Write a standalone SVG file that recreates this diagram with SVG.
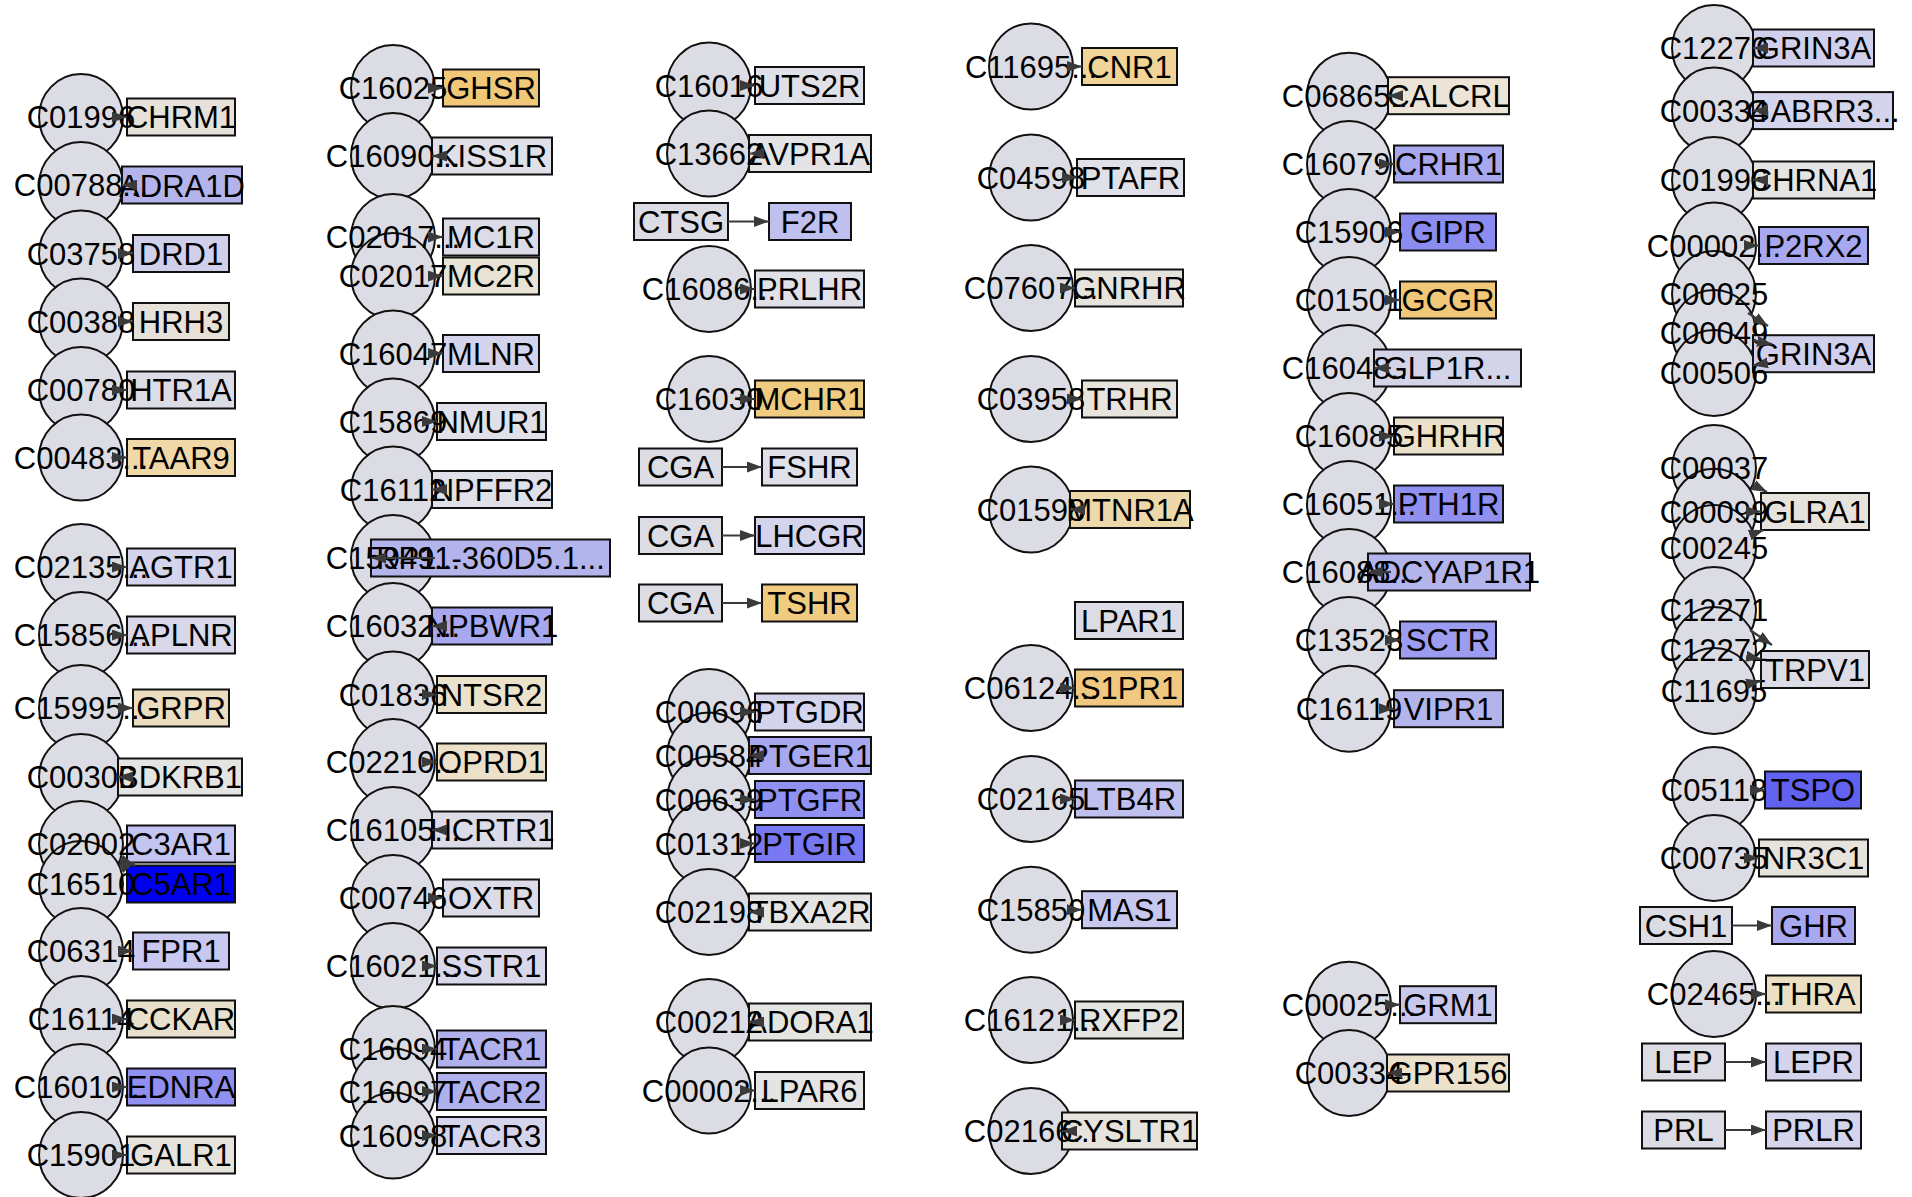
<svg xmlns="http://www.w3.org/2000/svg" width="1912" height="1197" viewBox="0 0 1912 1197">
<style>
.cpd ellipse{fill:#dcdce4;stroke:#111;stroke-width:2}
.gene rect{stroke:#111;stroke-width:2}
.lbl text{font-family:"Liberation Sans",Arial,sans-serif;font-size:31px;fill:#000;text-anchor:middle}
.edges line{stroke:#3a3a3a;stroke-width:2.2;marker-end:url(#arr)}
</style>
<defs>
<marker id="arr" markerUnits="userSpaceOnUse" markerWidth="15" markerHeight="11" refX="15" refY="5.5" orient="auto"><path d="M0,0 L15,5.5 L0,11 z" fill="#3a3a3a"/></marker>
</defs>
<rect width="1912" height="1197" fill="#ffffff"/>
<g id="nodes">
<!-- column 1 compounds -->
<g id="c1-C01996" class="node cpd"><ellipse cx="81" cy="117" rx="42" ry="43"/></g>
<g id="c1-C00788" class="node cpd"><ellipse cx="81" cy="185" rx="42" ry="43"/></g>
<g id="c1-C03758" class="node cpd"><ellipse cx="81" cy="253.5" rx="42" ry="43"/></g>
<g id="c1-C00388" class="node cpd"><ellipse cx="81" cy="321.5" rx="42" ry="43"/></g>
<g id="c1-C00780" class="node cpd"><ellipse cx="81" cy="390" rx="42" ry="43"/></g>
<g id="c1-C00483" class="node cpd"><ellipse cx="81" cy="457.5" rx="42" ry="43"/></g>
<g id="c1-C02135" class="node cpd"><ellipse cx="81" cy="567" rx="42" ry="43"/></g>
<g id="c1-C15856" class="node cpd"><ellipse cx="81" cy="635" rx="42" ry="43"/></g>
<g id="c1-C15995" class="node cpd"><ellipse cx="81" cy="708" rx="42" ry="43"/></g>
<g id="c1-C00306" class="node cpd"><ellipse cx="81" cy="777" rx="42" ry="43"/></g>
<g id="c1-C02002" class="node cpd"><ellipse cx="81" cy="844" rx="42" ry="43"/></g>
<g id="c1-C16510" class="node cpd"><ellipse cx="81" cy="884" rx="42" ry="43"/></g>
<g id="c1-C06314" class="node cpd"><ellipse cx="81" cy="951" rx="42" ry="43"/></g>
<g id="c1-C16114" class="node cpd"><ellipse cx="81" cy="1019" rx="42" ry="43"/></g>
<g id="c1-C16010" class="node cpd"><ellipse cx="81" cy="1087" rx="42" ry="43"/></g>
<g id="c1-C15901" class="node cpd"><ellipse cx="81" cy="1155" rx="42" ry="43"/></g>
<!-- column 2 compounds -->
<g id="c2-C16025" class="node cpd"><ellipse cx="393" cy="88" rx="42" ry="43"/></g>
<g id="c2-C16090" class="node cpd"><ellipse cx="393" cy="156" rx="42" ry="43"/></g>
<g id="c2-C02017a" class="node cpd"><ellipse cx="393" cy="237" rx="42" ry="43"/></g>
<g id="c2-C02017b" class="node cpd"><ellipse cx="393" cy="276" rx="42" ry="43"/></g>
<g id="c2-C16047" class="node cpd"><ellipse cx="393" cy="353.5" rx="42" ry="43"/></g>
<g id="c2-C15869" class="node cpd"><ellipse cx="393" cy="421.5" rx="42" ry="43"/></g>
<g id="c2-C16112" class="node cpd"><ellipse cx="393" cy="489.5" rx="42" ry="43"/></g>
<g id="c2-C15949" class="node cpd"><ellipse cx="393" cy="558" rx="42" ry="43"/></g>
<g id="c2-C16032" class="node cpd"><ellipse cx="393" cy="626" rx="42" ry="43"/></g>
<g id="c2-C01836" class="node cpd"><ellipse cx="393" cy="694.5" rx="42" ry="43"/></g>
<g id="c2-C02210" class="node cpd"><ellipse cx="393" cy="762" rx="42" ry="43"/></g>
<g id="c2-C16105" class="node cpd"><ellipse cx="393" cy="830" rx="42" ry="43"/></g>
<g id="c2-C00746" class="node cpd"><ellipse cx="393" cy="898" rx="42" ry="43"/></g>
<g id="c2-C16021" class="node cpd"><ellipse cx="393" cy="966" rx="42" ry="43"/></g>
<g id="c2-C16094" class="node cpd"><ellipse cx="393" cy="1049" rx="42" ry="43"/></g>
<g id="c2-C16097" class="node cpd"><ellipse cx="393" cy="1091.5" rx="42" ry="43"/></g>
<g id="c2-C16098" class="node cpd"><ellipse cx="393" cy="1135.5" rx="42" ry="43"/></g>
<!-- column 3 compounds -->
<g id="c3-C16016" class="node cpd"><ellipse cx="709" cy="85.5" rx="42" ry="43"/></g>
<g id="c3-C13662" class="node cpd"><ellipse cx="709" cy="153.5" rx="42" ry="43"/></g>
<g id="c3-C16086" class="node cpd"><ellipse cx="709" cy="289" rx="42" ry="43"/></g>
<g id="c3-C16030" class="node cpd"><ellipse cx="709" cy="399" rx="42" ry="43"/></g>
<g id="c3-C00696" class="node cpd"><ellipse cx="709" cy="712" rx="42" ry="43"/></g>
<g id="c3-C00584" class="node cpd"><ellipse cx="709" cy="755.5" rx="42" ry="43"/></g>
<g id="c3-C00639" class="node cpd"><ellipse cx="709" cy="799.5" rx="42" ry="43"/></g>
<g id="c3-C01312" class="node cpd"><ellipse cx="709" cy="843.5" rx="42" ry="43"/></g>
<g id="c3-C02198" class="node cpd"><ellipse cx="709" cy="912" rx="42" ry="43"/></g>
<g id="c3-C00212" class="node cpd"><ellipse cx="709" cy="1022" rx="42" ry="43"/></g>
<g id="c3-C00002" class="node cpd"><ellipse cx="709" cy="1090.5" rx="42" ry="43"/></g>
<!-- column 4 compounds -->
<g id="c4-C11695" class="node cpd"><ellipse cx="1031" cy="66.5" rx="42" ry="43"/></g>
<g id="c4-C04598" class="node cpd"><ellipse cx="1031" cy="177.5" rx="42" ry="43"/></g>
<g id="c4-C07607" class="node cpd"><ellipse cx="1031" cy="288" rx="42" ry="43"/></g>
<g id="c4-C03958" class="node cpd"><ellipse cx="1031" cy="399" rx="42" ry="43"/></g>
<g id="c4-C01598" class="node cpd"><ellipse cx="1031" cy="509.5" rx="42" ry="43"/></g>
<g id="c4-C06124" class="node cpd"><ellipse cx="1031" cy="688" rx="42" ry="43"/></g>
<g id="c4-C02165" class="node cpd"><ellipse cx="1031" cy="799" rx="42" ry="43"/></g>
<g id="c4-C15850" class="node cpd"><ellipse cx="1031" cy="909.7" rx="42" ry="43"/></g>
<g id="c4-C16121" class="node cpd"><ellipse cx="1031" cy="1020" rx="42" ry="43"/></g>
<g id="c4-C02166" class="node cpd"><ellipse cx="1031" cy="1131" rx="42" ry="43"/></g>
<!-- column 5 compounds -->
<g id="c5-C06865" class="node cpd"><ellipse cx="1349" cy="95.7" rx="42" ry="43"/></g>
<g id="c5-C16079" class="node cpd"><ellipse cx="1349" cy="164" rx="42" ry="43"/></g>
<g id="c5-C15906" class="node cpd"><ellipse cx="1349" cy="232" rx="42" ry="43"/></g>
<g id="c5-C01501" class="node cpd"><ellipse cx="1349" cy="300" rx="42" ry="43"/></g>
<g id="c5-C16048" class="node cpd"><ellipse cx="1349" cy="368" rx="42" ry="43"/></g>
<g id="c5-C16085" class="node cpd"><ellipse cx="1349" cy="436" rx="42" ry="43"/></g>
<g id="c5-C16051" class="node cpd"><ellipse cx="1349" cy="504" rx="42" ry="43"/></g>
<g id="c5-C16088" class="node cpd"><ellipse cx="1349" cy="572" rx="42" ry="43"/></g>
<g id="c5-C13523" class="node cpd"><ellipse cx="1349" cy="640" rx="42" ry="43"/></g>
<g id="c5-C16119" class="node cpd"><ellipse cx="1349" cy="708.7" rx="42" ry="43"/></g>
<g id="c5-C00025" class="node cpd"><ellipse cx="1349" cy="1004.7" rx="42" ry="43"/></g>
<g id="c5-C00334" class="node cpd"><ellipse cx="1349" cy="1073" rx="42" ry="43"/></g>
<!-- column 6 compounds -->
<g id="c6-C12270" class="node cpd"><ellipse cx="1714" cy="48" rx="42" ry="43"/></g>
<g id="c6-C00334" class="node cpd"><ellipse cx="1714" cy="110.6" rx="42" ry="43"/></g>
<g id="c6-C01996" class="node cpd"><ellipse cx="1714" cy="180" rx="42" ry="43"/></g>
<g id="c6-C00002" class="node cpd"><ellipse cx="1714" cy="245.5" rx="42" ry="43"/></g>
<g id="c6-C00025" class="node cpd"><ellipse cx="1714" cy="294" rx="42" ry="43"/></g>
<g id="c6-C00049" class="node cpd"><ellipse cx="1714" cy="333" rx="42" ry="43"/></g>
<g id="c6-C00506" class="node cpd"><ellipse cx="1714" cy="373" rx="42" ry="43"/></g>
<g id="c6-C00037" class="node cpd"><ellipse cx="1714" cy="468" rx="42" ry="43"/></g>
<g id="c6-C00099" class="node cpd"><ellipse cx="1714" cy="511.7" rx="42" ry="43"/></g>
<g id="c6-C00245" class="node cpd"><ellipse cx="1714" cy="548" rx="42" ry="43"/></g>
<g id="c6-C12271" class="node cpd"><ellipse cx="1714" cy="610" rx="42" ry="43"/></g>
<g id="c6-C12272" class="node cpd"><ellipse cx="1714" cy="650" rx="42" ry="43"/></g>
<g id="c6-C11695" class="node cpd"><ellipse cx="1714" cy="691" rx="42" ry="43"/></g>
<g id="c6-C05118" class="node cpd"><ellipse cx="1714" cy="790" rx="42" ry="43"/></g>
<g id="c6-C00735" class="node cpd"><ellipse cx="1714" cy="858" rx="42" ry="43"/></g>
<g id="c6-C02465" class="node cpd"><ellipse cx="1714" cy="994" rx="42" ry="43"/></g>

<!-- genes column 1 -->
<g id="g-CHRM1" class="node gene"><rect x="127" y="98.5" width="108" height="37" fill="#e6e2da"/></g>
<g id="g-ADRA1D" class="node gene"><rect x="122" y="166.5" width="120" height="37" fill="#b4b4ec"/></g>
<g id="g-DRD1" class="node gene"><rect x="133" y="235" width="96" height="37" fill="#d0d0ea"/></g>
<g id="g-HRH3" class="node gene"><rect x="133" y="303" width="96" height="37" fill="#e6e2da"/></g>
<g id="g-HTR1A" class="node gene"><rect x="127" y="371.5" width="108" height="37" fill="#dcdce6"/></g>
<g id="g-TAAR9" class="node gene"><rect x="127" y="439" width="108" height="37" fill="#f0d8a8"/></g>
<g id="g-AGTR1" class="node gene"><rect x="127" y="548.5" width="108" height="37" fill="#d4d4ec"/></g>
<g id="g-APLNR" class="node gene"><rect x="127" y="616.5" width="108" height="37" fill="#d8d8ea"/></g>
<g id="g-GRPR" class="node gene"><rect x="133" y="689.5" width="96" height="37" fill="#ecdcc0"/></g>
<g id="g-BDKRB1" class="node gene"><rect x="118" y="758.5" width="124" height="37" fill="#e4e4e2"/></g>
<g id="g-C3AR1" class="node gene"><rect x="127" y="825.5" width="108" height="37" fill="#c4c4f0"/></g>
<g id="g-C5AR1" class="node gene"><rect x="127" y="865.5" width="108" height="37" fill="#0000f0"/></g>
<g id="g-FPR1" class="node gene"><rect x="133" y="932.5" width="96" height="37" fill="#c8c8f0"/></g>
<g id="g-CCKAR" class="node gene"><rect x="127" y="1000.5" width="108" height="37" fill="#e8e0cc"/></g>
<g id="g-EDNRA" class="node gene"><rect x="127" y="1068.5" width="108" height="37" fill="#9090f0"/></g>
<g id="g-GALR1" class="node gene"><rect x="127" y="1136.5" width="108" height="37" fill="#e6e3dc"/></g>
<!-- genes column 2 -->
<g id="g-GHSR" class="node gene"><rect x="443" y="69.5" width="96" height="37" fill="#f0c878"/></g>
<g id="g-KISS1R" class="node gene"><rect x="432" y="137.5" width="120" height="37" fill="#e0e0e8"/></g>
<g id="g-MC1R" class="node gene"><rect x="443" y="218.5" width="96" height="37" fill="#dcdce8"/></g>
<g id="g-MC2R" class="node gene"><rect x="443" y="257.5" width="96" height="37" fill="#e8e3d4"/></g>
<g id="g-MLNR" class="node gene"><rect x="443" y="335" width="96" height="37" fill="#d4d4ec"/></g>
<g id="g-NMUR1" class="node gene"><rect x="437" y="403" width="109" height="37" fill="#e0e0e8"/></g>
<g id="g-NPFFR2" class="node gene"><rect x="432" y="471" width="120" height="37" fill="#e0e0e8"/></g>
<g id="g-RP11-360D5.1" class="node gene"><rect x="371" y="539.5" width="239" height="37" fill="#b4b4ec"/></g>
<g id="g-NPBWR1" class="node gene"><rect x="432" y="607.5" width="120" height="37" fill="#a8a8f0"/></g>
<g id="g-NTSR2" class="node gene"><rect x="437" y="676" width="109" height="37" fill="#ece2cc"/></g>
<g id="g-OPRD1" class="node gene"><rect x="437" y="743.5" width="109" height="37" fill="#ece0c8"/></g>
<g id="g-HCRTR1" class="node gene"><rect x="432" y="811.5" width="120" height="37" fill="#dcdce8"/></g>
<g id="g-OXTR" class="node gene"><rect x="443" y="879.5" width="96" height="37" fill="#dcdce8"/></g>
<g id="g-SSTR1" class="node gene"><rect x="437" y="947.5" width="109" height="37" fill="#d8d8ea"/></g>
<g id="g-TACR1" class="node gene"><rect x="437" y="1030.5" width="109" height="37" fill="#b0b0ec"/></g>
<g id="g-TACR2" class="node gene"><rect x="437" y="1073" width="109" height="37" fill="#b0b0ec"/></g>
<g id="g-TACR3" class="node gene"><rect x="437" y="1117" width="109" height="37" fill="#d4d4ec"/></g>
<!-- genes column 3 -->
<g id="g-UTS2R" class="node gene"><rect x="755" y="67" width="109" height="37" fill="#e0e0e8"/></g>
<g id="g-AVPR1A" class="node gene"><rect x="749" y="135" width="122" height="37" fill="#e4e4e6"/></g>
<g id="g-CTSG" class="node gene"><rect x="634" y="203" width="94" height="37" fill="#dcdce4"/></g>
<g id="g-F2R" class="node gene"><rect x="769" y="203" width="82" height="37" fill="#c0c0ee"/></g>
<g id="g-PRLHR" class="node gene"><rect x="755" y="270.5" width="109" height="37" fill="#e0e0e8"/></g>
<g id="g-MCHR1" class="node gene"><rect x="755" y="380.5" width="109" height="37" fill="#f0cc80"/></g>
<g id="g-CGA-1" class="node gene"><rect x="639" y="448.5" width="83" height="37" fill="#dcdce4"/></g>
<g id="g-FSHR" class="node gene"><rect x="762" y="448.5" width="95" height="37" fill="#e0e0e8"/></g>
<g id="g-CGA-2" class="node gene"><rect x="639" y="517" width="83" height="37" fill="#dcdce4"/></g>
<g id="g-LHCGR" class="node gene"><rect x="755" y="517" width="109" height="37" fill="#d4d4ec"/></g>
<g id="g-CGA-3" class="node gene"><rect x="639" y="584.5" width="83" height="37" fill="#dcdce4"/></g>
<g id="g-TSHR" class="node gene"><rect x="762" y="584.5" width="95" height="37" fill="#f0cc80"/></g>
<g id="g-PTGDR" class="node gene"><rect x="755" y="693.5" width="109" height="37" fill="#d4d4ec"/></g>
<g id="g-PTGER1" class="node gene"><rect x="749" y="737" width="122" height="37" fill="#a8a8f0"/></g>
<g id="g-PTGFR" class="node gene"><rect x="755" y="781" width="109" height="37" fill="#9090f0"/></g>
<g id="g-PTGIR" class="node gene"><rect x="755" y="825" width="109" height="37" fill="#7878f4"/></g>
<g id="g-TBXA2R" class="node gene"><rect x="749" y="893.5" width="122" height="37" fill="#e4e4e4"/></g>
<g id="g-ADORA1" class="node gene"><rect x="749" y="1003.5" width="122" height="37" fill="#e4e4e0"/></g>
<g id="g-LPAR6" class="node gene"><rect x="755" y="1072" width="109" height="37" fill="#e4e4e4"/></g>
<!-- genes column 4 -->
<g id="g-CNR1" class="node gene"><rect x="1082" y="48" width="95" height="37" fill="#f0d498"/></g>
<g id="g-PTAFR" class="node gene"><rect x="1077" y="159" width="107" height="37" fill="#e0e0e8"/></g>
<g id="g-GNRHR" class="node gene"><rect x="1075" y="269.5" width="108" height="37" fill="#e6e3dc"/></g>
<g id="g-TRHR" class="node gene"><rect x="1082" y="380.5" width="95" height="37" fill="#e6e4dc"/></g>
<g id="g-MTNR1A" class="node gene"><rect x="1070" y="491" width="120" height="37" fill="#ecd8a8"/></g>
<g id="g-LPAR1" class="node gene"><rect x="1075" y="602" width="108" height="37" fill="#dcdce6"/></g>
<g id="g-S1PR1" class="node gene"><rect x="1075" y="669.5" width="108" height="37" fill="#f0c880"/></g>
<g id="g-LTB4R" class="node gene"><rect x="1075" y="780.5" width="108" height="37" fill="#c0c0ee"/></g>
<g id="g-MAS1" class="node gene"><rect x="1082" y="891.2" width="95" height="37" fill="#c8c8ee"/></g>
<g id="g-RXFP2" class="node gene"><rect x="1075" y="1001.5" width="108" height="37" fill="#e4e4e0"/></g>
<g id="g-CYSLTR1" class="node gene"><rect x="1062" y="1112.5" width="135" height="37" fill="#e6e3dc"/></g>
<!-- genes column 5 -->
<g id="g-CALCRL" class="node gene"><rect x="1388" y="77.2" width="121" height="37" fill="#ece4d6"/></g>
<g id="g-CRHR1" class="node gene"><rect x="1394" y="145.5" width="109" height="37" fill="#a8a8f0"/></g>
<g id="g-GIPR" class="node gene"><rect x="1400" y="213.5" width="96" height="37" fill="#8c8cf0"/></g>
<g id="g-GCGR" class="node gene"><rect x="1400" y="281.5" width="96" height="37" fill="#f0c878"/></g>
<g id="g-GLP1R" class="node gene"><rect x="1374" y="349.5" width="147" height="37" fill="#d4d4e8"/></g>
<g id="g-GHRHR" class="node gene"><rect x="1394" y="417.5" width="109" height="37" fill="#ece2cc"/></g>
<g id="g-PTH1R" class="node gene"><rect x="1394" y="485.5" width="109" height="37" fill="#9090f0"/></g>
<g id="g-ADCYAP1R1" class="node gene"><rect x="1368" y="553.5" width="162" height="37" fill="#b4b4ec"/></g>
<g id="g-SCTR" class="node gene"><rect x="1400" y="621.5" width="96" height="37" fill="#9c9cf0"/></g>
<g id="g-VIPR1" class="node gene"><rect x="1394" y="690.2" width="109" height="37" fill="#b4b4ec"/></g>
<g id="g-GRM1" class="node gene"><rect x="1400" y="986.2" width="96" height="37" fill="#c8c8ec"/></g>
<g id="g-GPR156" class="node gene"><rect x="1387" y="1054.5" width="122" height="37" fill="#ece2cc"/></g>
<!-- genes column 6 -->
<g id="g-GRIN3A-1" class="node gene"><rect x="1753" y="29.5" width="121" height="37" fill="#d0d0ec"/></g>
<g id="g-GABRR3" class="node gene"><rect x="1753" y="92.1" width="140" height="37" fill="#d4d4ec"/></g>
<g id="g-CHRNA1" class="node gene"><rect x="1753" y="161.5" width="121" height="37" fill="#e4e4e4"/></g>
<g id="g-P2RX2" class="node gene"><rect x="1759" y="227" width="109" height="37" fill="#a8a8f0"/></g>
<g id="g-GRIN3A-2" class="node gene"><rect x="1753" y="335.2" width="121" height="37" fill="#d0d0ec"/></g>
<g id="g-GLRA1" class="node gene"><rect x="1761" y="493" width="108" height="37" fill="#e6e3dc"/></g>
<g id="g-TRPV1" class="node gene"><rect x="1761" y="651" width="108" height="37" fill="#dcdce6"/></g>
<g id="g-TSPO" class="node gene"><rect x="1765" y="771.5" width="96" height="37" fill="#6262f0"/></g>
<g id="g-NR3C1" class="node gene"><rect x="1759" y="839.5" width="109" height="37" fill="#e6e3dc"/></g>
<g id="g-CSH1" class="node gene"><rect x="1640" y="907" width="92" height="37" fill="#dcdce4"/></g>
<g id="g-GHR" class="node gene"><rect x="1772" y="907" width="83" height="37" fill="#a8a8f0"/></g>
<g id="g-THRA" class="node gene"><rect x="1766" y="975.5" width="95" height="37" fill="#ece0c4"/></g>
<g id="g-LEP" class="node gene"><rect x="1642" y="1043.5" width="83" height="37" fill="#dcdce4"/></g>
<g id="g-LEPR" class="node gene"><rect x="1766" y="1043.5" width="95" height="37" fill="#d4d4ec"/></g>
<g id="g-PRL" class="node gene"><rect x="1642" y="1111.5" width="83" height="37" fill="#dcdce4"/></g>
<g id="g-PRLR" class="node gene"><rect x="1766" y="1111.5" width="95" height="37" fill="#d4d4ec"/></g>
</g>

<g id="labels" class="lbl">
<text x="81" y="128">C01996</text>
<text x="81" y="196">C00788...</text>
<text x="81" y="264.5">C03758</text>
<text x="81" y="332.5">C00388</text>
<text x="81" y="401">C00780</text>
<text x="81" y="468.5">C00483...</text>
<text x="81" y="578">C02135...</text>
<text x="81" y="646">C15856...</text>
<text x="81" y="719">C15995...</text>
<text x="81" y="788">C00306</text>
<text x="81" y="855">C02002</text>
<text x="81" y="895">C16510</text>
<text x="81" y="962">C06314</text>
<text x="81" y="1030">C16114</text>
<text x="81" y="1098">C16010...</text>
<text x="81" y="1166">C15901</text>

<text x="393" y="99">C16025</text>
<text x="393" y="167">C16090...</text>
<text x="393" y="248">C02017...</text>
<text x="393" y="287">C02017</text>
<text x="393" y="364.5">C16047</text>
<text x="393" y="432.5">C15869</text>
<text x="393" y="500.5">C16112</text>
<text x="393" y="569">C15949...</text>
<text x="393" y="637">C16032...</text>
<text x="393" y="705.5">C01836</text>
<text x="393" y="773">C02210...</text>
<text x="393" y="841">C16105...</text>
<text x="393" y="909">C00746</text>
<text x="393" y="977">C16021...</text>
<text x="393" y="1060">C16094</text>
<text x="393" y="1102.5">C16097</text>
<text x="393" y="1146.5">C16098</text>

<text x="709" y="96.5">C16016</text>
<text x="709" y="164.5">C13662</text>
<text x="709" y="300">C16086...</text>
<text x="709" y="410">C16030</text>
<text x="709" y="723">C00696</text>
<text x="709" y="766.5">C00584</text>
<text x="709" y="810.5">C00639</text>
<text x="709" y="854.5">C01312</text>
<text x="709" y="923">C02198</text>
<text x="709" y="1033">C00212</text>
<text x="709" y="1101.5">C00002...</text>

<text x="1031" y="77.5">C11695...</text>
<text x="1031" y="188.5">C04598</text>
<text x="1031" y="299">C07607...</text>
<text x="1031" y="410">C03958</text>
<text x="1031" y="520.5">C01598</text>
<text x="1031" y="699">C06124...</text>
<text x="1031" y="810">C02165</text>
<text x="1031" y="920.7">C15850</text>
<text x="1031" y="1031">C16121...</text>
<text x="1031" y="1142">C02166...</text>

<text x="1349" y="106.7">C06865...</text>
<text x="1349" y="175">C16079...</text>
<text x="1349" y="243">C15906</text>
<text x="1349" y="311">C01501</text>
<text x="1349" y="379">C16048...</text>
<text x="1349" y="447">C16085</text>
<text x="1349" y="515">C16051...</text>
<text x="1349" y="583">C16088...</text>
<text x="1349" y="651">C13523</text>
<text x="1349" y="719.7">C16119</text>
<text x="1349" y="1015.7">C00025...</text>
<text x="1349" y="1084">C00334</text>

<text x="1714" y="59">C12270</text>
<text x="1714" y="121.6">C00334</text>
<text x="1714" y="191">C01996</text>
<text x="1714" y="256.5">C00002...</text>
<text x="1714" y="305">C00025</text>
<text x="1714" y="344">C00049</text>
<text x="1714" y="384">C00506</text>
<text x="1714" y="479">C00037</text>
<text x="1714" y="522.7">C00099</text>
<text x="1714" y="559">C00245</text>
<text x="1714" y="621">C12271</text>
<text x="1714" y="661">C12272</text>
<text x="1714" y="702">C11695</text>
<text x="1714" y="801">C05118</text>
<text x="1714" y="869">C00735</text>
<text x="1714" y="1005">C02465...</text>

<text x="181" y="128">CHRM1</text>
<text x="182" y="196.5">ADRA1D</text>
<text x="181" y="264.5">DRD1</text>
<text x="181" y="332.5">HRH3</text>
<text x="181" y="401">HTR1A</text>
<text x="181" y="468.5">TAAR9</text>
<text x="181" y="578">AGTR1</text>
<text x="181" y="646">APLNR</text>
<text x="181" y="719">GRPR</text>
<text x="180" y="788">BDKRB1</text>
<text x="181" y="855">C3AR1</text>
<text x="181" y="895">C5AR1</text>
<text x="181" y="962">FPR1</text>
<text x="181" y="1030">CCKAR</text>
<text x="181" y="1098">EDNRA</text>
<text x="181" y="1166">GALR1</text>

<text x="491" y="99">GHSR</text>
<text x="492" y="167">KISS1R</text>
<text x="491" y="248">MC1R</text>
<text x="491" y="287">MC2R</text>
<text x="491" y="364.5">MLNR</text>
<text x="491.5" y="432.5">NMUR1</text>
<text x="492" y="500.5">NPFFR2</text>
<text x="490.5" y="569">RP11-360D5.1...</text>
<text x="492" y="637">NPBWR1</text>
<text x="491.5" y="705.5">NTSR2</text>
<text x="491.5" y="773">OPRD1</text>
<text x="492" y="841">HCRTR1</text>
<text x="491" y="909">OXTR</text>
<text x="491.5" y="977">SSTR1</text>
<text x="491.5" y="1060">TACR1</text>
<text x="491.5" y="1102.5">TACR2</text>
<text x="491.5" y="1146.5">TACR3</text>

<text x="809.5" y="96.5">UTS2R</text>
<text x="810" y="164.5">AVPR1A</text>
<text x="681" y="232.5">CTSG</text>
<text x="810" y="232.5">F2R</text>
<text x="809.5" y="300">PRLHR</text>
<text x="809.5" y="410">MCHR1</text>
<text x="680.5" y="478">CGA</text>
<text x="809.5" y="478">FSHR</text>
<text x="680.5" y="546.5">CGA</text>
<text x="809.5" y="546.5">LHCGR</text>
<text x="680.5" y="614">CGA</text>
<text x="809.5" y="614">TSHR</text>
<text x="809.5" y="723">PTGDR</text>
<text x="810" y="766.5">PTGER1</text>
<text x="809.5" y="810.5">PTGFR</text>
<text x="809.5" y="854.5">PTGIR</text>
<text x="810" y="923">TBXA2R</text>
<text x="810" y="1033">ADORA1</text>
<text x="809.5" y="1101.5">LPAR6</text>

<text x="1129.5" y="77.5">CNR1</text>
<text x="1130.5" y="188.5">PTAFR</text>
<text x="1129" y="299">GNRHR</text>
<text x="1129.5" y="410">TRHR</text>
<text x="1130" y="520.5">MTNR1A</text>
<text x="1129" y="631.5">LPAR1</text>
<text x="1129" y="699">S1PR1</text>
<text x="1129" y="810">LTB4R</text>
<text x="1129.5" y="920.7">MAS1</text>
<text x="1129" y="1031">RXFP2</text>
<text x="1129.5" y="1142">CYSLTR1</text>

<text x="1448.5" y="106.7">CALCRL</text>
<text x="1448.5" y="175">CRHR1</text>
<text x="1448" y="243">GIPR</text>
<text x="1448" y="311">GCGR</text>
<text x="1447.5" y="379">GLP1R...</text>
<text x="1448.5" y="447">GHRHR</text>
<text x="1448.5" y="515">PTH1R</text>
<text x="1449" y="583">ADCYAP1R1</text>
<text x="1448" y="651">SCTR</text>
<text x="1448.5" y="719.7">VIPR1</text>
<text x="1448" y="1015.7">GRM1</text>
<text x="1448" y="1084">GPR156</text>

<text x="1813.5" y="59">GRIN3A</text>
<text x="1823" y="121.6">GABRR3...</text>
<text x="1813.5" y="191">CHRNA1</text>
<text x="1813.5" y="256.5">P2RX2</text>
<text x="1813.5" y="364.7">GRIN3A</text>
<text x="1815" y="522.5">GLRA1</text>
<text x="1815" y="680.5">TRPV1</text>
<text x="1813" y="801">TSPO</text>
<text x="1813.5" y="869">NR3C1</text>
<text x="1686" y="936.5">CSH1</text>
<text x="1813.5" y="936.5">GHR</text>
<text x="1813.5" y="1005">THRA</text>
<text x="1683.5" y="1073">LEP</text>
<text x="1813.5" y="1073">LEPR</text>
<text x="1683.5" y="1141">PRL</text>
<text x="1813.5" y="1141">PRLR</text>
</g>

<g id="edges" class="edges">
<line x1="123" y1="117" x2="127" y2="117"/>
<line x1="123" y1="185" x2="122" y2="185"/>
<line x1="123" y1="253.5" x2="133" y2="253.5"/>
<line x1="123" y1="321.5" x2="133" y2="321.5"/>
<line x1="123" y1="390" x2="127" y2="390"/>
<line x1="123" y1="457.5" x2="127" y2="457.5"/>
<line x1="123" y1="567" x2="127" y2="567"/>
<line x1="123" y1="635" x2="127" y2="635"/>
<line x1="123" y1="708" x2="133" y2="708"/>
<line x1="123" y1="777" x2="118" y2="777"/>
<line x1="120.1" y1="859.6" x2="134.8" y2="865.5"/>
<line x1="120.1" y1="868.4" x2="134.8" y2="862.5"/>
<line x1="123" y1="951" x2="133" y2="951"/>
<line x1="123" y1="1019" x2="127" y2="1019"/>
<line x1="123" y1="1087" x2="127" y2="1087"/>
<line x1="123" y1="1155" x2="127" y2="1155"/>

<line x1="435" y1="88" x2="443" y2="88"/>
<line x1="435" y1="156" x2="432" y2="156"/>
<line x1="435" y1="237" x2="443" y2="237"/>
<line x1="435" y1="276" x2="443" y2="276"/>
<line x1="435" y1="353.5" x2="443" y2="353.5"/>
<line x1="435" y1="421.5" x2="437" y2="421.5"/>
<line x1="435" y1="489.5" x2="432" y2="489.5"/>
<line x1="435" y1="558" x2="371" y2="558"/>
<line x1="435" y1="626" x2="432" y2="626"/>
<line x1="435" y1="694.5" x2="437" y2="694.5"/>
<line x1="435" y1="762" x2="437" y2="762"/>
<line x1="435" y1="830" x2="432" y2="830"/>
<line x1="435" y1="898" x2="443" y2="898"/>
<line x1="435" y1="966" x2="437" y2="966"/>
<line x1="435" y1="1049" x2="437" y2="1049"/>
<line x1="435" y1="1091.5" x2="437" y2="1091.5"/>
<line x1="435" y1="1135.5" x2="437" y2="1135.5"/>

<line x1="751" y1="85.5" x2="755" y2="85.5"/>
<line x1="751" y1="153.5" x2="749" y2="153.5"/>
<line x1="728" y1="221.5" x2="769" y2="221.5"/>
<line x1="751" y1="289" x2="755" y2="289"/>
<line x1="751" y1="399" x2="755" y2="399"/>
<line x1="722" y1="467" x2="762" y2="467"/>
<line x1="722" y1="535.5" x2="755" y2="535.5"/>
<line x1="722" y1="603" x2="762" y2="603"/>
<line x1="751" y1="712" x2="755" y2="712"/>
<line x1="751" y1="755.5" x2="749" y2="755.5"/>
<line x1="751" y1="799.5" x2="755" y2="799.5"/>
<line x1="751" y1="843.5" x2="755" y2="843.5"/>
<line x1="751" y1="912" x2="749" y2="912"/>
<line x1="751" y1="1022" x2="749" y2="1022"/>
<line x1="751" y1="1090.5" x2="755" y2="1090.5"/>

<line x1="1073" y1="66.5" x2="1082" y2="66.5"/>
<line x1="1073" y1="177.5" x2="1077" y2="177.5"/>
<line x1="1073" y1="288" x2="1075" y2="288"/>
<line x1="1073" y1="399" x2="1082" y2="399"/>
<line x1="1073" y1="509.5" x2="1070" y2="509.5"/>
<line x1="1073" y1="688" x2="1075" y2="688"/>
<line x1="1073" y1="799" x2="1075" y2="799"/>
<line x1="1073" y1="909.7" x2="1082" y2="909.7"/>
<line x1="1073" y1="1020" x2="1075" y2="1020"/>
<line x1="1073" y1="1131" x2="1062" y2="1131"/>

<line x1="1391" y1="95.7" x2="1388" y2="95.7"/>
<line x1="1391" y1="164" x2="1394" y2="164"/>
<line x1="1391" y1="232" x2="1400" y2="232"/>
<line x1="1391" y1="300" x2="1400" y2="300"/>
<line x1="1391" y1="368" x2="1374" y2="368"/>
<line x1="1391" y1="436" x2="1394" y2="436"/>
<line x1="1391" y1="504" x2="1394" y2="504"/>
<line x1="1391" y1="572" x2="1368" y2="572"/>
<line x1="1391" y1="640" x2="1400" y2="640"/>
<line x1="1391" y1="708.7" x2="1394" y2="708.7"/>
<line x1="1391" y1="1004.7" x2="1400" y2="1004.7"/>
<line x1="1391" y1="1073" x2="1387" y2="1073"/>

<line x1="1756" y1="48" x2="1753" y2="48"/>
<line x1="1756" y1="110.6" x2="1753" y2="110.6"/>
<line x1="1756" y1="180" x2="1753" y2="180"/>
<line x1="1756" y1="245.5" x2="1759" y2="245.5"/>
<line x1="1748" y1="313" x2="1768" y2="326"/>
<line x1="1753" y1="340.5" x2="1772" y2="344"/>
<line x1="1755.3" y1="365" x2="1753" y2="365.4"/>
<line x1="1752.7" y1="484.7" x2="1767" y2="492"/>
<line x1="1756" y1="511.6" x2="1761" y2="511.5"/>
<line x1="1753.7" y1="533.6" x2="1763.8" y2="530"/>
<line x1="1750" y1="630" x2="1772" y2="645"/>
<line x1="1755.3" y1="658" x2="1761" y2="659.1"/>
<line x1="1755.2" y1="682.2" x2="1761" y2="681"/>
<line x1="1756" y1="790" x2="1765" y2="790"/>
<line x1="1756" y1="858" x2="1759" y2="858"/>
<line x1="1732" y1="925.5" x2="1772" y2="925.5"/>
<line x1="1756" y1="994" x2="1766" y2="994"/>
<line x1="1725" y1="1062" x2="1766" y2="1062"/>
<line x1="1725" y1="1130" x2="1766" y2="1130"/>
</g>
</svg>
